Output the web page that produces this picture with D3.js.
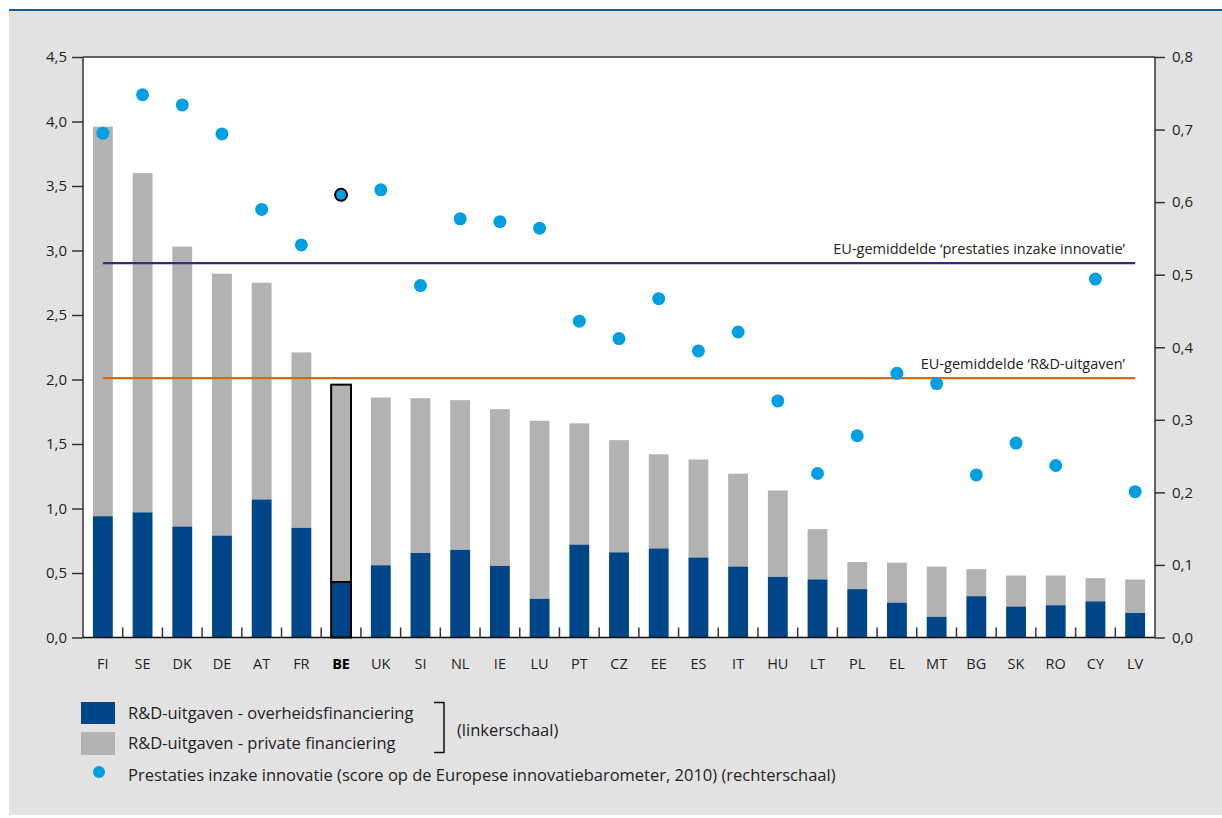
<!DOCTYPE html>
<html>
<head>
<meta charset="utf-8">
<script src="https://cdn.jsdelivr.net/npm/d3@7"></script>
<style>
  html, body { margin: 0; padding: 0; background: #ffffff; }
  svg { display: block; font-family: "Open Sans", "Noto Sans", sans-serif; }
</style>
</head>
<body>
<svg id="chart" width="1222" height="818"></svg>
<script>
// Member states, ordered by total R&D expenditure
const countries = ["FI","SE","DK","DE","AT","FR","BE","UK","SI","NL","IE","LU","PT","CZ","EE","ES","IT","HU","LT","PL","EL","MT","BG","SK","RO","CY","LV"];

// R&D expenditure (% of GDP), left scale
const publicFunding  = [0.94,0.97,0.86,0.79,1.07,0.85,0.43,0.56,0.655,0.68,0.555,0.30,0.72,0.66,0.69,0.62,0.55,0.47,0.45,0.375,0.27,0.16,0.32,0.24,0.25,0.28,0.19];
const privateFunding = [3.02,2.63,2.17,2.03,1.68,1.36,1.53,1.30,1.20,1.16,1.215,1.38,0.94,0.87,0.73,0.76,0.72,0.67,0.39,0.21,0.31,0.39,0.21,0.24,0.23,0.18,0.26];

// Innovation performance score (European innovation scoreboard 2010), right scale
const innovationScore = [0.695,0.748,0.734,0.694,0.590,0.541,0.610,0.617,0.485,0.577,0.573,0.564,0.436,0.412,0.467,0.395,0.421,0.326,0.226,0.278,0.364,0.350,0.224,0.268,0.237,0.494,0.201];

// EU averages
const euAvgRD = 2.01;
const euAvgInnovation = 0.516;

// Axis ticks
const leftTicks  = [0,0.5,1,1.5,2,2.5,3,3.5,4,4.5];
const rightTicks = [0,0.1,0.2,0.3,0.4,0.5,0.6,0.7,0.8];

const highlight = "BE";

const colors = {
  publicBar: "#004587",
  privateBar: "#b2b2b2",
  dot: "#009fe3",
  avgInnovation: "#2e2a85",
  avgRD: "#d4691a",
  axis: "#333333",
  text: "#222222",
  panel: "#e2e2e2",
  rule: "#1d5a9c"
};

const svg = d3.select("#chart");

// Panel background and top rule
svg.append("rect").attr("x", 9).attr("y", 11).attr("width", 1213).attr("height", 804).attr("fill", colors.panel);
svg.append("rect").attr("x", 9).attr("y", 9).attr("width", 1213).attr("height", 2).attr("fill", colors.rule);

const plot = { left: 83, right: 1155, top: 57, bottom: 637.5 };

svg.append("rect")
  .attr("x", plot.left).attr("y", plot.top)
  .attr("width", plot.right - plot.left).attr("height", plot.bottom - plot.top)
  .attr("fill", "#ffffff");

const x = d3.scaleBand().domain(countries).range([plot.left, plot.right]).paddingInner(0.5).paddingOuter(0.25);
const yL = d3.scaleLinear().domain([0, 4.5]).range([plot.bottom, plot.top]);
const yR = d3.scaleLinear().domain([0, 0.8]).range([plot.bottom, plot.top]);

const nl = d3.formatLocale({ decimal: ",", thousands: ".", grouping: [3], currency: ["€", ""] });
const fmt = nl.format(".1f");

const rows = countries.map((c, i) => ({
  c, pub: publicFunding[i], priv: privateFunding[i], score: innovationScore[i]
}));

// Stacked bars
const bars = svg.append("g");
rows.forEach(d => {
  const isHi = d.c === highlight;
  bars.append("rect")
    .attr("x", x(d.c)).attr("width", x.bandwidth())
    .attr("y", yL(d.pub + d.priv)).attr("height", yL(d.pub) - yL(d.pub + d.priv))
    .attr("fill", colors.privateBar)
    .attr("stroke", isHi ? "#000" : "none").attr("stroke-width", 2);
  bars.append("rect")
    .attr("x", x(d.c)).attr("width", x.bandwidth())
    .attr("y", yL(d.pub)).attr("height", yL(0) - yL(d.pub))
    .attr("fill", colors.publicBar)
    .attr("stroke", isHi ? "#000" : "none").attr("stroke-width", 2);
});

// EU average lines, from first to last country
const xFirst = x(countries[0]) + x.bandwidth() / 2;
const xLast = x(countries[countries.length - 1]) + x.bandwidth() / 2;

svg.append("line")
  .attr("x1", xFirst).attr("x2", xLast)
  .attr("y1", yR(euAvgInnovation)).attr("y2", yR(euAvgInnovation))
  .attr("stroke", colors.avgInnovation).attr("stroke-width", 2.2);
svg.append("line")
  .attr("x1", xFirst).attr("x2", xLast)
  .attr("y1", yL(euAvgRD)).attr("y2", yL(euAvgRD))
  .attr("stroke", colors.avgRD).attr("stroke-width", 2.2);

svg.append("text")
  .attr("x", 1125).attr("y", yR(euAvgInnovation) - 9)
  .attr("text-anchor", "end").attr("font-size", 14.5).attr("fill", colors.text)
  .text("EU-gemiddelde ‘prestaties inzake innovatie’");
svg.append("text")
  .attr("x", 1125).attr("y", yL(euAvgRD) - 9)
  .attr("text-anchor", "end").attr("font-size", 14.5).attr("fill", colors.text)
  .text("EU-gemiddelde ‘R&D-uitgaven’");

// Innovation score dots
svg.append("g").selectAll("circle").data(rows).join("circle")
  .attr("cx", d => x(d.c) + x.bandwidth() / 2)
  .attr("cy", d => yR(d.score))
  .attr("r", d => d.c === highlight ? 6 : 6.5)
  .attr("fill", colors.dot)
  .attr("stroke", d => d.c === highlight ? "#000" : "none")
  .attr("stroke-width", 2);

// Axes
const axisLeft = d3.axisLeft(yL).tickValues(leftTicks).tickFormat(fmt).tickSize(11).tickPadding(5);
const axisRight = d3.axisRight(yR).tickValues(rightTicks).tickFormat(fmt).tickSize(10).tickPadding(7);

const gL = svg.append("g").attr("transform", `translate(${plot.left},0)`).call(axisLeft);
const gR = svg.append("g").attr("transform", `translate(${plot.right},0)`).call(axisRight);
[gL, gR].forEach(g => {
  g.select(".domain").remove();
  g.selectAll(".tick line").attr("stroke", colors.axis).attr("stroke-width", 1.5);
  g.selectAll(".tick text").attr("font-size", 15).attr("fill", colors.text).attr("font-family", "Open Sans, sans-serif");
});

// Frame: top edge, both vertical axes, baseline
const frame = svg.append("g").attr("stroke", colors.axis).attr("stroke-width", 1.5).attr("fill", "none");
frame.append("line").attr("x1", plot.left).attr("x2", plot.right).attr("y1", plot.top).attr("y2", plot.top);
frame.append("line").attr("x1", plot.left).attr("x2", plot.left).attr("y1", plot.top).attr("y2", plot.bottom);
frame.append("line").attr("x1", plot.right).attr("x2", plot.right).attr("y1", plot.top).attr("y2", plot.bottom);
frame.append("line").attr("x1", plot.left).attr("x2", plot.right).attr("y1", plot.bottom).attr("y2", plot.bottom).attr("stroke", "#111");

// Category separators pointing up from the baseline
const step = x.step();
const sepG = svg.append("g").attr("stroke", colors.axis).attr("stroke-width", 1.5);
countries.slice(1).forEach(c => {
  const sx = x(c) - step * x.paddingInner() / 2;
  sepG.append("line").attr("x1", sx).attr("x2", sx).attr("y1", plot.bottom).attr("y2", plot.bottom - 10);
});

// Category labels
svg.append("g").selectAll("text").data(countries).join("text")
  .attr("x", d => x(d) + x.bandwidth() / 2)
  .attr("y", 669)
  .attr("text-anchor", "middle")
  .attr("font-size", 14.5)
  .attr("font-weight", d => d === highlight ? 700 : 400)
  .attr("fill", d => d === highlight ? "#000" : colors.text)
  .text(d => d);

// Legend
const legend = svg.append("g").attr("font-size", 16.5).attr("fill", colors.text);
legend.append("rect").attr("x", 81).attr("y", 702).attr("width", 34).attr("height", 22).attr("fill", colors.publicBar);
legend.append("rect").attr("x", 81).attr("y", 732).attr("width", 34).attr("height", 23).attr("fill", colors.privateBar);
legend.append("circle").attr("cx", 99).attr("cy", 772).attr("r", 6).attr("fill", colors.dot);

legend.append("text").attr("x", 128).attr("y", 719).text("R&D-uitgaven - overheidsfinanciering");
legend.append("text").attr("x", 128).attr("y", 749).text("R&D-uitgaven - private financiering");
legend.append("text").attr("x", 128).attr("y", 781).text("Prestaties inzake innovatie (score op de Europese innovatiebarometer, 2010) (rechterschaal)");

legend.append("path")
  .attr("d", "M434,702.5 H444 V752.5 H434")
  .attr("fill", "none").attr("stroke", "#111").attr("stroke-width", 1.5);
legend.append("text").attr("x", 457).attr("y", 736).text("(linkerschaal)");
</script>
</body>
</html>
